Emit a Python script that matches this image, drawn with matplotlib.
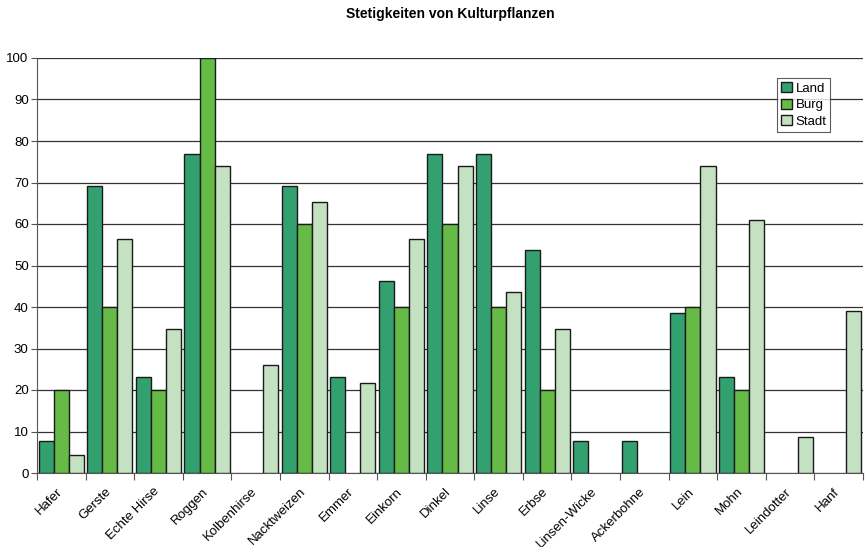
import numpy as np
import matplotlib
matplotlib.use("Agg")
import matplotlib.pyplot as plt
import matplotlib.transforms as mtransforms

plt.rcParams['font.family'] = ['Liberation Sans', 'DejaVu Sans']

categories = ['Hafer', 'Gerste', 'Echte Hirse', 'Roggen', 'Kolbenhirse', 'Nacktweizen',
              'Emmer', 'Einkorn', 'Dinkel', 'Linse', 'Erbse', 'Linsen-Wicke',
              'Ackerbohne', 'Lein', 'Mohn', 'Leindotter', 'Hanf']
land = [7.7, 69.2, 23.1, 76.9, 0, 69.2, 23.1, 46.2, 76.9, 76.9, 53.8, 7.7, 7.7, 38.5, 23.1, 0, 0]
burg = [20, 40, 20, 100, 0, 60, 0, 40, 60, 40, 20, 0, 0, 40, 20, 0, 0]
stadt = [4.3, 56.5, 34.8, 73.9, 26.1, 65.2, 21.7, 56.5, 73.9, 43.5, 34.8, 0, 0, 73.9, 60.9, 8.7, 39.1]

series = [('Land', land, '#33a070'), ('Burg', burg, '#66bb46'), ('Stadt', stadt, '#c4e2c2')]

fig = plt.figure(figsize=(8.68, 5.47), dpi=100)
ax = fig.add_axes([37 / 868, 1 - 473 / 547, (863 - 37) / 868, (473 - 58) / 547])

x = np.arange(len(categories))
w = 0.31
for i, (name, vals, col) in enumerate(series):
    v = np.array(vals, dtype=float)
    mask = v > 0
    ax.bar(x[mask] + (i - 1) * w, v[mask], width=w, color=col, edgecolor='#1a1a1a',
           linewidth=1.0, label=name, zorder=3)

ax.set_xlim(-0.5, len(categories) - 0.5)
ax.set_ylim(0, 100)
ax.set_yticks(np.arange(0, 101, 10))
ax.yaxis.grid(True, color='#333333', linewidth=0.9, zorder=0)
ax.set_axisbelow(True)

ax.set_xticks(np.arange(len(categories) + 1) - 0.5)
ax.set_xticklabels([])
ax.set_xticks(x, minor=True)
ax.set_xticklabels(categories, minor=True, rotation=45, ha='right', rotation_mode='anchor', fontsize=9.5)
ax.tick_params(axis='x', which='minor', length=0, pad=9)
ax.tick_params(axis='x', which='major', length=5, color='#555555', direction='out')
ax.tick_params(axis='y', length=4, labelsize=9.5, color='#555555', pad=2)

shift = mtransforms.ScaledTranslation(-5 / 100, 0, fig.dpi_scale_trans)
for lbl in ax.get_xticklabels(minor=True):
    lbl.set_transform(lbl.get_transform() + shift)

for s in ['top', 'right']:
    ax.spines[s].set_visible(False)
ax.spines['left'].set_color('#555555')
ax.spines['bottom'].set_color('#555555')

fig.text(450 / 868, 1 - 14 / 547, 'Stetigkeiten von Kulturpflanzen', ha='center', va='center',
         fontsize=10, fontweight='bold')

leg = ax.legend(loc='upper left', bbox_to_anchor=((777 - 37) / 826, 1 - (78 - 58) / 415),
                fontsize=9.5, frameon=True, fancybox=False, edgecolor='#333333',
                handlelength=0.8, handleheight=0.8, handletextpad=0.3, borderpad=0.3,
                labelspacing=0.3, borderaxespad=0)
leg.get_frame().set_linewidth(0.8)

fig.savefig('out.png', dpi=100)
